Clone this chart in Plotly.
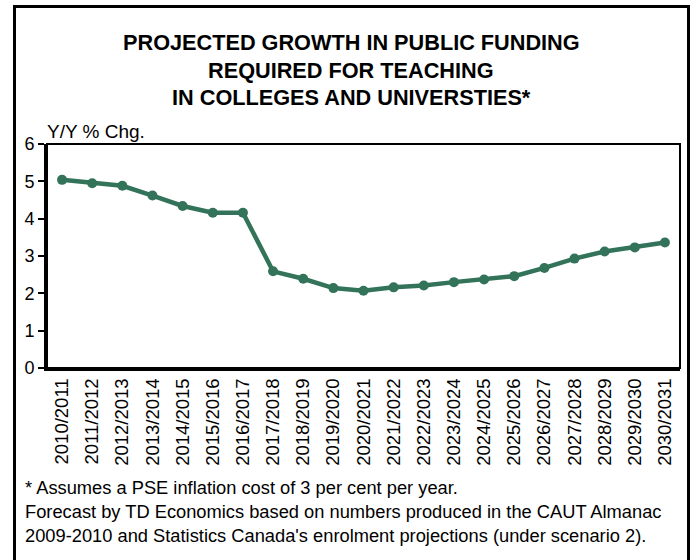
import plotly.graph_objects as go

# Academic years on the category axis
years = [
    "2010/2011", "2011/2012", "2012/2013", "2013/2014", "2014/2015",
    "2015/2016", "2016/2017", "2017/2018", "2018/2019", "2019/2020",
    "2020/2021", "2021/2022", "2022/2023", "2023/2024", "2024/2025",
    "2025/2026", "2026/2027", "2027/2028", "2028/2029", "2029/2030",
    "2030/2031",
]

# Year-over-year % change in required public funding
growth = [
    5.04, 4.95, 4.88, 4.62, 4.34, 4.16, 4.16, 2.59, 2.39, 2.14,
    2.07, 2.16, 2.21, 2.30, 2.37, 2.46, 2.68, 2.93, 3.12, 3.23,
    3.36,
]

y_ticks = [0, 1, 2, 3, 4, 5, 6]

title_lines = [
    "PROJECTED GROWTH IN PUBLIC FUNDING",
    "REQUIRED FOR TEACHING",
    "IN COLLEGES AND UNIVERSTIES*",
]
notes = [
    "* Assumes a PSE inflation cost of 3 per cent per year.",
    "Forecast by TD Economics based on numbers produced in the CAUT Almanac",
    "2009-2010 and Statistics Canada's enrolment projections (under scenario 2).",
]

W, H = 692, 560
ML, MR, MT, MB = 47, 12, 144, 192
PW, PH = W - ML - MR, H - MT - MB


def px(x):
    return (x - ML) / PW


def py(y):
    return (H - MB - y) / PH


LINE = "#33735a"
ARIAL = "Arial, Liberation Sans, sans-serif"

fig = go.Figure(
    go.Scatter(
        x=years,
        y=growth,
        mode="lines+markers",
        line=dict(color=LINE, width=4.5),
        marker=dict(color=LINE, size=10),
        showlegend=False,
    )
)

fig.update_xaxes(
    type="category",
    range=[-0.5, len(years) - 0.5],
    showline=True,
    linecolor="black",
    linewidth=3,
    showgrid=False,
    ticks="",
    tickangle=-90,
    tickfont=dict(family=ARIAL, size=18.5, color="black"),
    zeroline=False,
)
fig.update_yaxes(
    range=[0, 6],
    tickvals=y_ticks,
    showline=True,
    linecolor="black",
    linewidth=3,
    showgrid=False,
    ticks="outside",
    ticklen=6,
    tickwidth=2,
    tickcolor="black",
    tickfont=dict(family=ARIAL, size=18, color="black"),
    zeroline=False,
)

annotations = []
for i, line in enumerate(title_lines):
    annotations.append(dict(
        text=f"<b>{line}</b>", x=px(351), y=py(43 + 27 * i),
        xref="paper", yref="paper", xanchor="center", yanchor="middle",
        showarrow=False, font=dict(family=ARIAL, size=21.7, color="black"),
    ))
annotations.append(dict(
    text="Y/Y % Chg.", x=px(45), y=py(131),
    xref="paper", yref="paper", xanchor="left", yanchor="middle",
    showarrow=False, font=dict(family=ARIAL, size=19, color="black"),
))
for i, line in enumerate(notes):
    annotations.append(dict(
        text=line, x=px(23), y=py(487 + 24 * i),
        xref="paper", yref="paper", xanchor="left", yanchor="middle",
        showarrow=False, font=dict(family=ARIAL, size=18.3, color="black"),
    ))

shapes = [
    # thin frame around plot area (top and right edges)
    dict(type="rect", xref="paper", yref="paper", x0=0, x1=1, y0=0, y1=1,
         line=dict(color="black", width=2), layer="above"),
    # outer border around whole chart
    dict(type="rect", xref="paper", yref="paper",
         x0=px(14.5), x1=px(688.5), y0=py(600), y1=py(6.5),
         line=dict(color="black", width=3)),
]

fig.update_layout(
    width=W, height=H,
    margin=dict(l=ML, r=MR, t=MT, b=MB),
    paper_bgcolor="white",
    plot_bgcolor="white",
    annotations=annotations,
    shapes=shapes,
)

fig.write_html("out.html")
